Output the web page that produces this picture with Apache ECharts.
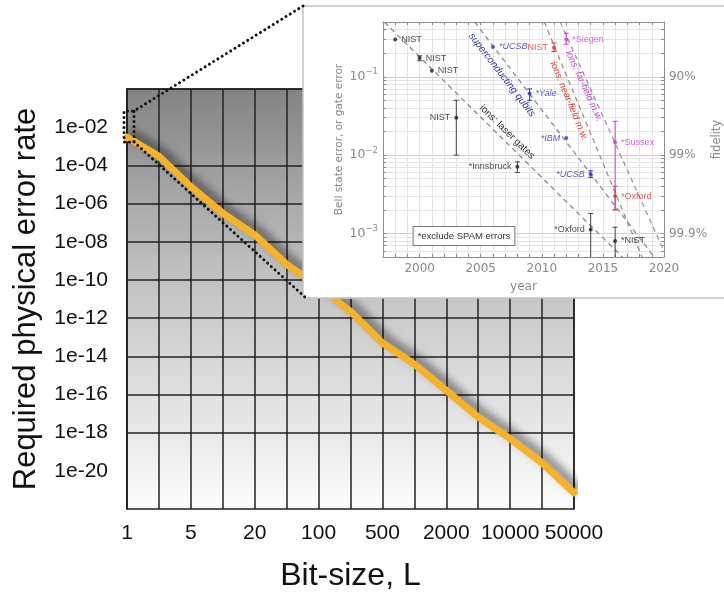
<!DOCTYPE html>
<html>
<head>
<meta charset="utf-8">
<script src="https://cdn.jsdelivr.net/npm/echarts@6/dist/echarts.min.js"></script>
<style>
  html, body { margin: 0; padding: 0; background: #fff; }
  #chart { width: 724px; height: 597px; }
</style>
</head>
<body>
<div id="chart"></div>
<script>
// main chart: required error rate vs bit-size
const bitSizes = ['1', '2', '5', '10', '20', '50', '100', '200', '500', '1000', '2000', '5000', '10000', '20000', '50000'];
const errorRate = [3e-3, 3e-4, 7.6e-6, 3.1e-7, 2.3e-8, 6.6e-10, 4.4e-11, 2.2e-12, 5e-14, 3.9e-15, 1.6e-16, 6.5e-18, 4.8e-19, 2.6e-20, 7e-22];
const rateTickExps = [-2, -4, -6, -8, -10, -12, -14, -16, -18, -20];

// inset: two-qubit gate error by year
const yearRange = [1997, 2020];
const errRange = [5e-4, 0.5];
const laserPts = [[1998, 0.30], [2000, 0.173], [2001, 0.119], [2003, 0.030], [2008, 0.0071], [2014, 0.00112], [2016, 0.0008]];
const laserNames = ['NIST', 'NIST', 'NIST', 'NIST', '*Innsbruck', '*Oxford', '*NIST'];
const laserErr = [null, [0.16, 0.185], null, [0.01, 0.05], [0.006, 0.0082], [0.0004, 0.0018], [0.0004, 0.0012]];
const scPts = [[2006, 0.24], [2009, 0.061], [2012, 0.0165], [2014, 0.0057]];
const scNames = ['*UCSB', '*Yale', '*IBM', '*UCSB'];
const scErr = [null, [0.05, 0.07], null, [0.0052, 0.0063]];
const nearPts = [[2011, 0.235], [2016, 0.003]];
const nearNames = ['NIST', '*Oxford'];
const nearErr = [[0.21, 0.27], [0.002, 0.004]];
const farPts = [[2012, 0.30], [2016, 0.0146]];
const farNames = ['*Siegen', '*Sussex'];
const farErr = [[0.26, 0.36], [0.002, 0.027]];
const trendLaser = [[1997.1, 0.5], [2016.6, 5e-4]];
const trendSC = [[2004.5, 0.5], [2019.2, 5e-4]];
const trendNear = [[2010.2, 0.5], [2018.2, 5e-4]];
const trendFar = [[2011.5, 0.5], [2020, 6e-4]];
const decadeExps = [-3, -2, -1];
const fidelityText = { '-3': '99.9%', '-2': '99%', '-1': '90%' };

const lg = Math.log10;
const blue = '#3333b3', red = '#d83a30', magenta = '#cc3ccc', black = '#222';
const axisGray = '#8c8c8c';

// minor log ticks for the inset
const minorTicks = [];
for (let n = -4; n <= -1; n++) {
  for (let k = 1; k <= 9; k++) {
    const v = k * Math.pow(10, n);
    if (v >= errRange[0] * 0.9999 && v <= errRange[1] * 1.0001) minorTicks.push({ v: lg(v), major: k === 1 });
  }
}

const rateGrid = [];
for (let e = -22; e <= 0; e += 2) {
  rateGrid.push(rateTickExps.slice(1, -1).includes(e) ? '#222' : 'rgba(0,0,0,0)');
}

function scatterSeries(pts, names, sides, color, italic) {
  return {
    type: 'scatter', xAxisIndex: 1, yAxisIndex: 1, z: 13,
    symbolSize: 4, itemStyle: { color: color },
    data: pts.map((p, i) => ({
      name: names[i], value: [p[0], lg(p[1])],
      label: { position: sides[i] }
    })),
    label: {
      show: true, formatter: '{b}', color: color, fontSize: 9, distance: 4,
      fontFamily: 'Liberation Sans', fontStyle: italic ? 'italic' : 'normal'
    }
  };
}

function errorSeries(pts, errs, color) {
  const data = [];
  errs.forEach((e, i) => { if (e) data.push([pts[i][0], lg(e[0]), lg(e[1])]); });
  return {
    type: 'custom', xAxisIndex: 1, yAxisIndex: 1, z: 12, clip: true,
    data: data,
    renderItem: function (params, api) {
      const lo = api.coord([api.value(0), api.value(1)]);
      const hi = api.coord([api.value(0), api.value(2)]);
      const w = 2.5;
      const st = { stroke: color, lineWidth: 1 };
      return {
        type: 'group', children: [
          { type: 'line', shape: { x1: lo[0], y1: lo[1], x2: hi[0], y2: hi[1] }, style: st },
          { type: 'line', shape: { x1: lo[0] - w, y1: lo[1], x2: lo[0] + w, y2: lo[1] }, style: st },
          { type: 'line', shape: { x1: hi[0] - w, y1: hi[1], x2: hi[0] + w, y2: hi[1] }, style: st }
        ]
      };
    }
  };
}

function trendSeries(pts, color) {
  return {
    type: 'line', xAxisIndex: 1, yAxisIndex: 1, z: 11, symbol: 'none', silent: true,
    data: pts.map(p => [p[0], lg(p[1])]),
    lineStyle: { color: color, width: 1.3, type: [5, 4] }
  };
}

function rotText(text, x, y, angle, color, size, italic) {
  return {
    type: 'text', x: x, y: y, rotation: angle, z: 20,
    style: {
      text: text, fill: color, fontSize: size, fontFamily: 'Liberation Sans',
      fontStyle: italic ? 'italic' : 'normal', align: 'center', verticalAlign: 'middle'
    }
  };
}

const chart = echarts.init(document.getElementById('chart'));

const option = {
  animation: false,
  textStyle: { fontFamily: 'Liberation Sans' },
  grid: [
    {
      left: 127, top: 89, width: 447, height: 422, show: true,
      backgroundColor: new echarts.graphic.LinearGradient(0, 0, 0, 1, [
        { offset: 0, color: '#838383' },
        { offset: 0.45, color: '#c2c2c2' },
        { offset: 1, color: '#fdfdfd' }
      ]),
      borderColor: '#222', borderWidth: 1.5
    },
    { left: 383, top: 22, width: 283, height: 235, show: false }
  ],
  xAxis: [
    {
      type: 'category', gridIndex: 0, data: bitSizes, boundaryGap: false,
      axisLine: { lineStyle: { color: '#222', width: 1.5 } },
      axisTick: { show: false },
      axisLabel: { interval: 1, fontSize: 21, color: '#111', margin: 14 },
      splitLine: { show: true, interval: 0, lineStyle: { color: '#222', width: 1.5 } },
      name: 'Bit-size, L', nameLocation: 'middle', nameGap: 51,
      nameTextStyle: { fontSize: 32, color: '#111' }
    },
    {
      type: 'value', gridIndex: 1, min: yearRange[0], max: yearRange[1], interval: 1, z: 10,
      axisLine: { lineStyle: { color: axisGray } },
      axisTick: { inside: true, length: 3, lineStyle: { color: axisGray } },
      axisLabel: {
        formatter: v => (v % 5 === 0 ? String(v) : ''), color: '#8a8a8a', fontSize: 12,
        fontFamily: 'DejaVu Sans', margin: 6
      },
      splitLine: { show: true, lineStyle: { color: '#e4e4e4', width: 1 } },
      name: 'year', nameLocation: 'middle', nameGap: 24,
      nameTextStyle: { color: '#8a8a8a', fontSize: 12, fontFamily: 'DejaVu Sans' }
    },
    {
      type: 'value', gridIndex: 1, position: 'top', min: yearRange[0], max: yearRange[1], interval: 1, z: 10,
      axisLine: { lineStyle: { color: axisGray } },
      axisTick: { inside: true, length: 3, lineStyle: { color: axisGray } },
      axisLabel: { show: false }, splitLine: { show: false }
    }
  ],
  yAxis: [
    {
      type: 'value', gridIndex: 0, min: -22, max: 0, interval: 2,
      axisLine: { show: true, lineStyle: { color: '#222', width: 1.5 } },
      axisTick: { show: false },
      axisLabel: {
        formatter: v => (rateTickExps.includes(v) ? '1e-' + String(-v).padStart(2, '0') : ''),
        fontSize: 21, color: '#111', margin: 19
      },
      splitLine: { show: true, lineStyle: { color: rateGrid, width: 1.5 } },
      name: 'Required physical error rate', nameLocation: 'middle', nameGap: 85, nameRotate: 90,
      nameTextStyle: { fontSize: 31, color: '#111' }
    },
    {
      type: 'value', gridIndex: 1, min: lg(errRange[0]), max: lg(errRange[1]), z: 10,
      axisLine: { show: true, lineStyle: { color: axisGray } },
      axisTick: { inside: true, length: 3, customValues: minorTicks.map(t => t.v), lineStyle: { color: axisGray } },
      axisLabel: {
        customValues: decadeExps, margin: 5,
        formatter: v => '{b|10}{s|\u2212' + Math.round(-v) + '}',
        rich: {
          b: { fontSize: 12.5, color: '#8a8a8a', fontFamily: 'DejaVu Sans', lineHeight: 18 },
          s: { fontSize: 8.5, color: '#8a8a8a', fontFamily: 'DejaVu Sans', lineHeight: 10, verticalAlign: 'top' }
        }
      },
      splitLine: { show: true, lineStyle: { color: minorTicks.map(t => (t.major ? '#cfcfcf' : '#e6e6e6')), width: 1 } },
      name: 'Bell state error, or gate error', nameLocation: 'middle', nameGap: 38, nameRotate: 90,
      nameTextStyle: { color: '#8a8a8a', fontSize: 10.5, fontFamily: 'DejaVu Sans' }
    },
    {
      type: 'value', gridIndex: 1, position: 'right', min: lg(errRange[0]), max: lg(errRange[1]), z: 10,
      axisLine: { show: true, lineStyle: { color: axisGray } },
      axisTick: { inside: true, length: 3, customValues: minorTicks.map(t => t.v), lineStyle: { color: axisGray } },
      axisLabel: {
        customValues: decadeExps, margin: 5, color: '#8a8a8a', fontSize: 12, fontFamily: 'DejaVu Sans',
        formatter: v => fidelityText[String(Math.round(v))] || ''
      },
      splitLine: { show: false },
      name: 'fidelity', nameLocation: 'middle', nameGap: 44, nameRotate: 90,
      nameTextStyle: { color: '#8a8a8a', fontSize: 11.5, fontFamily: 'DejaVu Sans' }
    }
  ],
  graphic: {
    elements: [
      {
        type: 'rect', z: 5, shape: { x: 303, y: 6, width: 440, height: 292 },
        style: { fill: '#fff', stroke: '#c4c4c4', lineWidth: 1.5 }
      },
      {
        type: 'polyline', z: 6,
        shape: { points: [[303, 6], [134, 111], [124, 111], [124, 142], [134, 142], [134, 111]] },
        style: { stroke: '#111', lineWidth: 3, lineDash: [0.01, 5], lineCap: 'round', fill: null }
      },
      {
        type: 'polyline', z: 6,
        shape: { points: [[134, 142], [306, 298]] },
        style: { stroke: '#111', lineWidth: 3, lineDash: [0.01, 5], lineCap: 'round', fill: null }
      },
      rotText('superconducting qubits', 502, 75, -0.915, blue, 10, true),
      rotText('ions: laser gates', 507, 132, -0.774, '#333', 10, false),
      rotText('ions: near-field m.w.', 569, 101, -1.175, red, 9.5, true),
      rotText('ions: far-field m.w.', 584, 86, -1.144, magenta, 9.5, true),
      {
        type: 'text', x: 464, y: 236, z: 20,
        style: {
          text: '*exclude SPAM errors', fill: '#333', fontSize: 9.5, fontFamily: 'Liberation Sans',
          align: 'center', verticalAlign: 'middle', backgroundColor: '#fff',
          borderColor: '#777', borderWidth: 1, padding: [4, 4]
        }
      }
    ]
  },
  series: [
    {
      type: 'line', xAxisIndex: 0, yAxisIndex: 0, z: 3, symbol: 'none',
      data: errorRate.map(v => lg(v)),
      lineStyle: {
        color: '#f5b325', width: 7, cap: 'round', join: 'round',
        shadowColor: 'rgba(0,0,0,0.6)', shadowBlur: 10, shadowOffsetX: 5, shadowOffsetY: -3
      }
    },
    trendSeries(trendLaser, '#8a8a8a'),
    trendSeries(trendSC, '#8a8a9a'),
    trendSeries(trendNear, '#a88a8a'),
    trendSeries(trendFar, '#a890a8'),
    errorSeries(laserPts, laserErr, '#444'),
    errorSeries(scPts, scErr, blue),
    errorSeries(nearPts, nearErr, red),
    errorSeries(farPts, farErr, magenta),
    scatterSeries(laserPts, laserNames, ['right', 'right', 'right', 'left', 'left', 'left', 'right'], black, false),
    scatterSeries(scPts, scNames, ['right', 'right', 'left', 'left'], blue, true),
    scatterSeries(nearPts, nearNames, ['left', 'right'], red, false),
    scatterSeries(farPts, farNames, ['right', 'right'], magenta, false)
  ]
};

chart.setOption(option);
</script>
</body>
</html>
